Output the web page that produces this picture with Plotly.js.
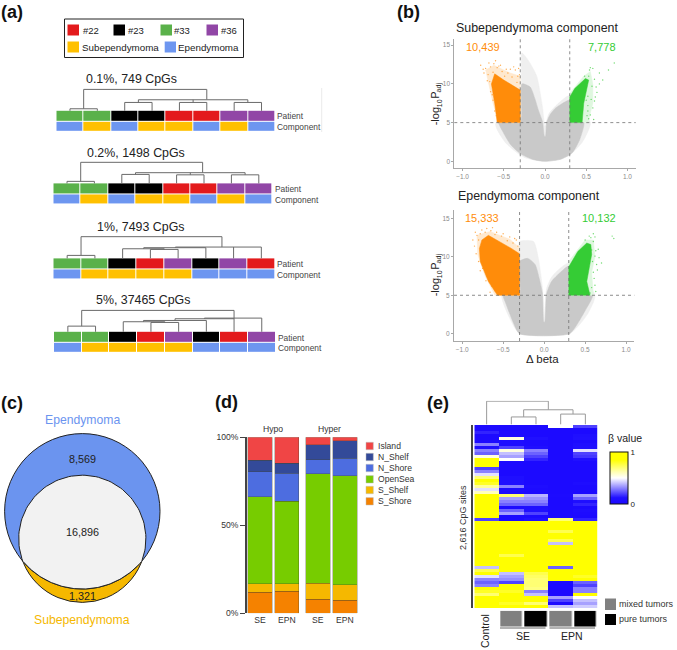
<!DOCTYPE html>
<html><head><meta charset="utf-8">
<script src="https://cdn.plot.ly/plotly-3.0.1.min.js"></script>
<style>html,body{margin:0;padding:0;background:#fff}#chart{width:677px;height:650px}</style>
</head><body><div id="chart"></div>
<script>
// ---------- Panel (a) data ----------
var clusterColors = ['#e31a1c','#000000','#5ab14a','#9146a6','#ffc000','#6d96f0'];
var legendPatients = ['#22','#23','#33','#36'];
var legendComponents = ['Subependymoma','Ependymoma'];
var clusterTitles = ['0.1%, 749 CpGs','0.2%, 1498 CpGs','1%, 7493 CpGs','5%, 37465 CpGs'];
// 0:#22 1:#23 2:#33 3:#36 4:Subependymoma 5:Ependymoma
var patientRow1 = [2,2,1,1,0,0,3,3], componentRow1 = [5,4,5,4,4,5,4,5];
var patientRow2 = [2,2,1,1,0,0,3,3], componentRow2 = [5,4,5,4,4,5,4,5];
var patientRow3 = [2,2,1,0,3,1,3,0], componentRow3 = [5,4,4,4,4,5,5,5];
var patientRow4 = [2,2,1,0,3,1,0,3], componentRow4 = [5,4,4,4,4,5,5,5];
var dendroX1 = [0,0,1,1,null,.5,.5,5,5,null,2,2,3,3,null,4,4,5,5,null,6,6,7,7,null,2.5,2.5,6.5,6.5,null,4.5,4.5];
var dendroH1 = [0,.19,.19,0,null,.19,2,2,1.06,null,0,.78,.78,0,null,0,.78,.78,0,null,0,.78,.78,0,null,.78,1.03,1.03,.78,null,.78,1.03];
var dendroX2 = [0,0,1,1,null,.5,.5,4.95,4.95,null,2,2,3,3,null,4,4,5,5,null,6,6,7,7,null,2.5,2.5,6.5,6.5,null,4.5,4.5];
var dendroH2 = [0,.19,.19,0,null,.19,1.97,1.97,1,null,0,.84,.84,0,null,0,.8,.8,0,null,0,.8,.8,0,null,.84,1,1,.8,null,.8,1];
var dendroX3 = [0,0,1,1,null,.5,.5,5.58,5.58,null,3,3,4,4,null,2,2,3.5,3.5,null,2.76,2.76,5,5,null,3.9,3.9,7,7,null,6,6];
var dendroH3 = [0,.28,.28,0,null,.28,2.03,2.03,1.06,null,0,.84,.84,0,null,0,.9,.9,.84,null,.9,1,1,0,null,1,1.06,1.06,0,null,0,1.06];
var dendroX4 = [0,0,1,1,null,.5,.5,6,6,null,3,3,4,4,null,2,2,3.5,3.5,null,2.73,2.73,5,5,null,3.87,3.87,6,null,4.93,4.93,7,7];
var dendroH4 = [0,.53,.53,0,null,.53,2,2,0,null,0,.875,.875,0,null,0,.94,.94,.875,null,.94,1.06,1.06,0,null,1.06,1.22,1.22,null,1.22,1.28,1.28,0];

// ---------- Panel (b) data (outlines of the point clouds) ----------
var foldCut = [-0.3,0.3], pCut = 5;
var haloX1 = [0,-.25,-.47,-.6,-.3,-.28,-.2,-.1,-.03,0,.05,.3,.55,.46,.3,.14];
var haloY1 = [0,.5,2.3,4.8,9,14,13,11,7,4.5,6.2,8.5,5,2.6,.8,.15];
var grayX1 = [0,-.15,-.3,-.42,-.52,-.56,-.3,-.28,-.18,-.12,-.08,-.03,-.006,.006,.02,.06,.12,.2,.3,.3,.47,.42,.33,.2];
var grayY1 = [0,.25,1,2.2,4,5,5,10,9.6,8,6.6,5.1,3.2,3.2,5,6,6.8,7.4,7.9,5,5,2.8,1.1,.3];
var hypoHaloX1 = [-.3,-.56,-.63,-.68,-.72,-.62,-.42,-.3];
var hypoHaloY1 = [5,5,7.5,10,11.8,12.4,11.4,11];
var hypoX1 = [-.3,-.58,-.61,-.65,-.61,-.5,-.3];
var hypoY1 = [5,5,7.5,10,11.3,10.5,9.2];
var hyperHaloX1 = [.3,.52,.58,.58,.55,.47,.3];
var hyperHaloY1 = [5,5,7.5,10,11.6,11,8.8];
var hyperX1 = [.3,.45,.47,.53,.49,.36,.3];
var hyperY1 = [5,5,7.5,10.5,10.7,9.4,8.3];
var hypoDotsX1 = [-.78,-.75,-.72,-.69,-.66,-.62,-.58,-.52,-.45,-.36,-.33,-.34,-.4,-.56,-.63,-.7,-.67,-.61,-.57,-.55,-.64,-.31,-.42,-.49,-.74,-.68,-.6,-.54,-.47,-.38,-.32,-.66,-.63,-.59];
var hypoDotsY1 = [12.4,11.9,12,11.2,12.2,12.6,12.1,11.6,11.4,11.8,11,10.2,10.9,12.3,11.5,10.4,10.3,6.5,5.7,5.3,8.6,11.2,11.9,11,11.4,12.7,13,12.4,11.9,12.2,12,9,7.9,5.9];
var hyperDotsX1 = [.53,.54,.6,.66,.77,.84,.52,.55,.58,.53,.56,.52,.57,.48,.62,.7,.5,.51,.6,.63,.58,.55,.66,.59,.52,.61];
var hyperDotsY1 = [11,11.8,10.6,11.4,11.8,12.7,6.5,6,6.9,5.5,8,8.4,9.7,11,9.6,10.5,7.9,5.9,7.8,8.9,12,12.1,10,5.4,7.2,8.3];
var haloX2 = [-.3,-.42,-.52,-.3,-.3,-.13,-.07,-.02,0,.03,.1,.3,.62,.52,.31];
var haloY2 = [0,2,5,9.7,12,12,9.8,5.9,2,5.9,7.5,9.2,5,2.4,0];
var grayX2 = [-.3,-.37,-.47,-.5,-.3,-.3,-.2,-.11,-.06,-.02,-.004,.008,.03,.09,.2,.3,.3,.59,.5,.4,.31];
var grayY2 = [0,1.3,4,5,5,9.4,9.8,9,7.2,5.2,1.5,1.5,5.2,6.8,8,8.8,5,5,3,1.2,0];
var hypoHaloX2 = [-.3,-.6,-.72,-.81,-.82,-.66,-.42,-.3];
var hypoHaloY2 = [5,5,7.5,10.3,12.8,13.3,12.3,11.2];
var hypoX2 = [-.3,-.57,-.68,-.78,-.79,-.76,-.68,-.54,-.4,-.3];
var hypoY2 = [5,5,6.8,9.4,11.1,12.2,12.8,12,11.1,10.4];
var hyperHaloX2 = [.3,.6,.58,.62,.6,.5,.3];
var hyperHaloY2 = [5,5,8,10,12.2,12.2,9.4];
var hyperX2 = [.3,.56,.52,.58,.57,.52,.41,.3];
var hyperY2 = [5,5,6.8,10.3,11.6,11.8,10.7,8.7];
var hypoDotsX2 = [-.82,-.8,-.78,-.72,-.65,-.6,-.52,-.45,-.38,-.32,-.83,-.8,-.75,-.7,-.64,-.6,-.34,-.42,-.85,-.58,-.87,-.84,-.76,-.7,-.63,-.5,-.36,-.78,-.71,-.66];
var hypoDotsY2 = [12.8,12.2,13,13.2,13.4,12.9,12.7,12.1,11.8,11.4,10.4,9.4,8.5,7.5,6.2,5.6,12.2,12.6,11.4,13.2,12.2,13.2,13.5,13.7,13.8,13,12.4,8.2,6.9,5.4];
var hyperDotsX2 = [.6,.57,.62,.58,.62,.64,.6,.62,.63,.58,.65,.55,.83,.85,.66,.7,.5,.61,.63,.59,.56,.67,.6];
var hyperDotsY2 = [12,12.5,12.6,10.9,10.1,9,8,6.3,5.5,6,8.3,12.7,12.7,12.4,11,9.2,12.2,7.2,10.8,9.4,5.3,9.9,13];
var volcanoTitles = ['Subependymoma component','Ependymoma component'];
var hypoCounts = ['10,439','15,333'], hyperCounts = ['7,778','10,132'];

// ---------- Panel (c) data ----------
var vennEpendymoma = {cx:82.3, cy:98.7, r:77.7};
var vennSubependymoma = {cx:82.3, cy:71.2, r:63.6};
var vennCounts = ['8,569','16,896','1,321'];

// ---------- Panel (d) data ----------
var regionNames = ['S_Shore','S_Shelf','OpenSea','N_Shore','N_Shelf','Island'];
var regionColors = ['#f58200','#f5b800','#77cc00','#4d6de0','#334a99','#f04545'];
var samples = ['SE','EPN'];
var hypoShares = [[11.9,12.5],[4.8,4.4],[49.6,46.9],[14,15.7],[6.6,5.7],[13.1,14.8]];
var hyperShares = [[8.1,7.4],[8.9,8.9],[62.4,61.9],[7.9,9.9],[8.5,9.8],[4.2,2.1]];

// ---------- Panel (e) data ----------
var betaControl = [.05,.05,.15,.05,.05,.05,.3,.12,.3,.25,.55,.85,1,1,.2,.3,.45,.7,.9,.8,.65,.45,.6,1,1,1,1,1,1,.85,1,.2,1,1,1,1,1,1,1,1,1,1,1,1,1,1,.95,.4,.75,.95,.45,.3,.25,.3,.9,.8,.7,1,1,.95,1];
var betaSEmixed = [.03,.03,.05,.05,.55,.08,.08,.2,.55,.4,.35,.5,.03,.03,.03,.03,.03,.1,.1,.1,.3,.08,.05,.7,.35,.3,.25,.08,.25,.35,.03,.03,1,1,1,1,1,.9,1,1,1,1,1,.75,.9,.85,1,1,.9,.4,.35,.32,.2,.85,.95,.8,.9,1,1,.8,1];
var betaSEpure = [.03,.03,.03,.03,.12,.05,.05,.1,.3,.25,.2,.15,.03,.03,.03,.03,.03,.03,.03,.03,.08,.05,.05,.38,.33,.3,.25,.1,.12,.2,.03,.12,1,1,1,1,.95,.85,1,1,1,1,1,1,.95,1,1,.95,.95,.75,.72,.7,.7,.7,.68,.3,.4,.95,.85,.7,.85];
var betaEPNmixed = [.5,.03,.03,.03,.03,.03,.03,.03,.03,.03,.03,.03,.03,.03,.03,.03,.03,.03,.03,.03,.03,.03,.03,.05,.03,.03,.03,.03,.03,.03,.03,.7,1,.85,1,.75,.85,1,.75,.4,1,1,1,1,1,1,1,.25,1,1,1,1,.05,.03,.03,.03,.03,.35,.2,.05,.4];
var betaEPNpure = [.2,.03,.03,.1,.12,.05,.1,.12,.45,.2,.18,.12,.03,.03,.03,.03,.03,.03,.03,.08,.03,.03,.03,.35,.25,.1,.15,.03,.08,.05,.03,.15,1,1,1,1,.9,.95,.85,.9,1,1,1,1,.9,.95,1,1,.95,.85,.8,.85,.25,.2,.3,.3,.85,.5,.4,.35,.42];
var heatDendroX = [1,1,2,2,null,3,3,4,4,null,1.5,1.5,3.5,3.5,null,0,0,2.5,2.5];
var heatDendroY = [0,.32,.32,0,null,0,.44,.44,0,null,.32,.62,.62,.44,null,0,.98,.98,.62];
var tumorType = [null,.5,1,.5,1];

// ---------- helpers ----------
var W = 677, H = 650;
var FONT = 'Liberation Sans, Arial, sans-serif';
var data = [], shapes = [], annotations = [];
var layout = {
  width:W, height:H, margin:{l:0,r:0,t:0,b:0,pad:0}, paper_bgcolor:'#fff', plot_bgcolor:'rgba(0,0,0,0)',
  showlegend:false, barmode:'stack', bargap:0.09, font:{family:FONT,color:'#222'},
  shapes:shapes, annotations:annotations
};
function hiddenAxis(extra){
  return Object.assign({showgrid:false,zeroline:false,showticklabels:false,ticks:'',showline:false,fixedrange:true},extra||{});
}
var axisCount = 0;
function addPlot(x0,x1,yTop,yBottom,xopts,yopts){
  axisCount++;
  var k = axisCount===1 ? '' : String(axisCount);
  layout['xaxis'+k] = hiddenAxis(Object.assign({domain:[x0/W,x1/W],anchor:'y'+k},xopts));
  layout['yaxis'+k] = hiddenAxis(Object.assign({domain:[1-yBottom/H,1-yTop/H],anchor:'x'+k},yopts));
  return {x:'x'+k,y:'y'+k};
}
function text(x,y,str,o){
  o=o||{};
  annotations.push({xref:'paper',yref:'paper',x:x/W,y:1-y/H,text:str,showarrow:false,
    xanchor:o.anchor||'left',yanchor:'middle',textangle:o.angle||0,borderpad:0,borderwidth:0,
    font:{family:FONT,size:o.size||10,color:o.color||'#222'}});
}
function box(x0,y0,x1,y1,fill,line,lw){
  shapes.push({type:'rect',xref:'paper',yref:'paper',x0:x0/W,x1:x1/W,y0:1-y0/H,y1:1-y1/H,
    fillcolor:fill||'rgba(0,0,0,0)',line:{color:line||'rgba(0,0,0,0)',width:lw===undefined?0:lw}});
}
function rule(x0,y0,x1,y1,color,lw){
  shapes.push({type:'line',xref:'paper',yref:'paper',x0:x0/W,x1:x1/W,y0:1-y0/H,y1:1-y1/H,line:{color:color,width:lw}});
}
function closed(a){return a.concat([a[0]]);}

// panel letters
text(1,12,'<b>(a)</b>',{size:18,color:'#111'});
text(397,12,'<b>(b)</b>',{size:18,color:'#111'});
text(1,403,'<b>(c)</b>',{size:18,color:'#111'});
text(215,402,'<b>(d)</b>',{size:18,color:'#111'});
text(427,403,'<b>(e)</b>',{size:18,color:'#111'});

// ---------- (a) ----------
box(64.5,19,243.5,57.5,'#fff','#222',1);
var swatchLeft = [67.5,113.5,160.5,206.5], labelLeft = [82.5,128,174,221];
legendPatients.forEach(function(t,i){
  box(swatchLeft[i],24.5,swatchLeft[i]+11.5,35.5,clusterColors[i]);
  text(labelLeft[i],30.3,t,{size:9.5});
});
box(67.5,41.5,79,52.5,clusterColors[4]); text(81.5,47.7,legendComponents[0],{size:9.8});
box(164.7,41.5,176,52.5,clusterColors[5]); text(178,47.2,legendComponents[1],{size:9.8});
rule(321.7,88,321.7,132,'#e4e4e4',0.8);

var rowPitch = 10.7;
var discrete = [];
clusterColors.forEach(function(c,i){discrete.push([i/6,c]);discrete.push([(i+1)/6,c]);});
var clusterBlocks = [
  {x0:56.3,x1:275.2,bottom:132.2,p:patientRow1,c:componentRow1,dx:dendroX1,dh:dendroH1,tx:86,ty:79},
  {x0:53.3,x1:272.5,bottom:204.8,p:patientRow2,c:componentRow2,dx:dendroX2,dh:dendroH2,tx:87,ty:153},
  {x0:53.3,x1:275.2,bottom:279.8,p:patientRow3,c:componentRow3,dx:dendroX3,dh:dendroH3,tx:97,ty:226.7},
  {x0:54,x1:275.6,bottom:353.2,p:patientRow4,c:componentRow4,dx:dendroX4,dh:dendroH4,tx:96,ty:300}
];
clusterBlocks.forEach(function(b,i){
  var ax = addPlot(b.x0,b.x1,b.bottom-4.4*rowPitch,b.bottom,{range:[-.5,7.5]},{range:[-.5,3.9]});
  data.push({type:'heatmap',z:[b.c,b.p],zmin:0,zmax:6,colorscale:discrete,showscale:false,xgap:1,ygap:1,xaxis:ax.x,yaxis:ax.y,hoverinfo:'skip'});
  data.push({type:'scatter',mode:'lines',x:b.dx,y:b.dh.map(function(h){return h===null?null:h+1.5;}),
    line:{color:'#6a6a6a',width:1},xaxis:ax.x,yaxis:ax.y,hoverinfo:'skip',connectgaps:false});
  text(b.tx,b.ty,clusterTitles[i],{size:12.4});
  text(b.x1+2,b.bottom-15.7,'Patient',{size:8.4,color:'#444'});
  text(b.x1+2,b.bottom-5,'Component',{size:8.4,color:'#444'});
});

// ---------- (b) ----------
var volcanoBoxes = [
  {l:454.3,r:635.7,t:39,b:168.3,yr:[-.9,15.8],
   hx:haloX1,hy:haloY1,gx:grayX1,gy:grayY1,ohx:hypoHaloX1,ohy:hypoHaloY1,lhx:hyperHaloX1,lhy:hyperHaloY1,ox:hypoX1,oy:hypoY1,lx:hyperX1,ly:hyperY1,odx:hypoDotsX1,ody:hypoDotsY1,ldx:hyperDotsX1,ldy:hyperDotsY1,
   titleX:536.7,titleY:28,cy:47,c1:483,c2:601.7,labY:104},
  {l:454,r:634.3,t:210,b:341,yr:[-.95,16.1],
   hx:haloX2,hy:haloY2,gx:grayX2,gy:grayY2,ohx:hypoHaloX2,ohy:hypoHaloY2,lhx:hyperHaloX2,lhy:hyperHaloY2,ox:hypoX2,oy:hypoY2,lx:hyperX2,ly:hyperY2,odx:hypoDotsX2,ody:hypoDotsY2,ldx:hyperDotsX2,ldy:hyperDotsY2,
   titleX:529,titleY:196,cy:218,c1:482,c2:599,labY:275}
];
var ORANGE='#ff8c0a', GREEN='#35cc35';
volcanoBoxes.forEach(function(v,i){
  var tickStyle = {showline:true,linecolor:'#a8a8a8',linewidth:1,ticks:'outside',ticklen:2,tickwidth:1,tickcolor:'#a8a8a8',
    showticklabels:true,tickfont:{size:6.5,color:'#8a8a8a',family:FONT}};
  var ax = addPlot(v.l,v.r,v.t,v.b,
    Object.assign({range:[-1.1,1.1],tickvals:[-1,-.5,0,.5,1],tickformat:'.1f'},tickStyle),
    Object.assign({range:v.yr,tickvals:[0,5,10,15]},tickStyle));
  function poly(px,py,color,smooth){
    data.push({type:'scatter',mode:'lines',x:closed(px),y:closed(py),fill:'toself',fillcolor:color,
      line:{color:color,width:0.5,shape:smooth?'spline':'linear',smoothing:.6},xaxis:ax.x,yaxis:ax.y,hoverinfo:'skip'});
  }
  poly(v.hx,v.hy,'#efefef',true); poly(v.gx,v.gy,'#c9c9c9',true);
  poly(v.ohx,v.ohy,'#ffe9cf',false); poly(v.lhx,v.lhy,'#dff7df',false);
  poly(v.ox,v.oy,ORANGE,false); poly(v.lx,v.ly,GREEN,false);
  data.push({type:'scatter',mode:'markers',x:v.odx,y:v.ody,marker:{size:1.4,color:ORANGE,opacity:.7},xaxis:ax.x,yaxis:ax.y,hoverinfo:'skip'});
  data.push({type:'scatter',mode:'markers',x:v.ldx,y:v.ldy,marker:{size:1.4,color:GREEN,opacity:.7},xaxis:ax.x,yaxis:ax.y,hoverinfo:'skip'});
  foldCut.forEach(function(c){
    shapes.push({type:'line',xref:ax.x,yref:ax.y+' domain',x0:c,x1:c,y0:0,y1:1,line:{color:'#707070',width:.8,dash:'dot'}});
  });
  shapes.push({type:'line',xref:ax.x+' domain',yref:ax.y,x0:0,x1:1,y0:pCut,y1:pCut,line:{color:'#707070',width:.8,dash:'dot'}});
  text(v.titleX,v.titleY,volcanoTitles[i],{size:12.4,anchor:'center'});
  text(v.c1,v.cy,hypoCounts[i],{size:11,color:ORANGE,anchor:'center'});
  text(v.c2,v.cy,hyperCounts[i],{size:11,color:GREEN,anchor:'center'});
  // rotated -log10Padj, each run placed on its own so the subscripts keep their lower baseline
  var foot = v.labY+21.4;
  text(435,foot-9.1,'-log',{size:11,anchor:'center',angle:-90});
  text(439,foot-22.2,'10',{size:7,anchor:'center',angle:-90});
  text(435,foot-29.7,'P',{size:11,anchor:'center',angle:-90});
  text(439,foot-38,'adj',{size:7,anchor:'center',angle:-90});
});
text(542.7,359,'\u0394 beta',{size:11.5,anchor:'center'});

// ---------- (c) ----------
var vennAxes = addPlot(0,165,425,610,{range:[0,165]},{range:[0,185]});
function circleShape(c,fill){
  shapes.push({type:'circle',layer:'below',xref:vennAxes.x,yref:vennAxes.y,x0:c.cx-c.r,x1:c.cx+c.r,y0:c.cy-c.r,y1:c.cy+c.r,
    fillcolor:fill,line:{color:'#222',width:1}});
}
circleShape(vennSubependymoma,'#f5b800');
circleShape(vennEpendymoma,'#6b94ef');
(function(){
  // the overlap of the two circles, traced along each circle's own rim
  var A=vennEpendymoma,B=vennSubependymoma,lx=[],ly=[],n=90;
  var dy=A.cy-B.cy;
  var yi=(dy*dy+B.r*B.r-A.r*A.r)/(2*dy);          // chord height above B's centre
  var half=Math.sqrt(B.r*B.r-yi*yi);
  var aB=Math.atan2(yi,half), aA=Math.atan2(yi-dy,half);
  for(var i=0;i<=n;i++){var t=aB+(Math.PI-2*aB)*i/n;lx.push(B.cx+B.r*Math.cos(t));ly.push(B.cy+B.r*Math.sin(t));}
  for(i=0;i<=n;i++){t=Math.PI-aA+(Math.PI+2*aA)*i/n;lx.push(A.cx+A.r*Math.cos(t));ly.push(A.cy+A.r*Math.sin(t));}
  data.push({type:'scatter',mode:'lines',x:lx,y:ly,fill:'toself',fillcolor:'#f2f2f2',line:{color:'#222',width:1},
    xaxis:vennAxes.x,yaxis:vennAxes.y,hoverinfo:'skip'});
})();
text(82.3,420,'Ependymoma',{size:12.2,color:'#6b94ef',anchor:'center'});
text(82.3,619.7,'Subependymoma',{size:12.2,color:'#f5b800',anchor:'center'});
text(82.3,459,vennCounts[0],{size:10.8,anchor:'center'});
text(82.3,532,vennCounts[1],{size:10.8,anchor:'center'});
text(82.3,595.7,vennCounts[2],{size:10.8,anchor:'center'});

// ---------- (d) ----------
var barX = {type:'category',categoryorder:'array',categoryarray:samples,range:[-.5,1.5],showticklabels:true,
  tickfont:{size:8.6,color:'#333',family:FONT},ticks:'',ticklen:0};
var dA = addPlot(246.7,300.1,437.3,613.3,barX,{range:[0,100],tickvals:[0,50,100],ticktext:['0%','50%','100%'],
  showticklabels:true,ticks:'outside',ticklen:5,tickwidth:1,tickcolor:'#444',showline:true,linecolor:'#444',linewidth:1.5,
  tickfont:{size:8.6,color:'#333',family:FONT}});
var dB = addPlot(304.3,358.3,437.3,613.3,barX,{range:[0,100]});
[[hypoShares,dA],[hyperShares,dB]].forEach(function(pair){
  regionNames.forEach(function(name,i){
    data.push({type:'bar',x:samples,y:pair[0][i],name:name,marker:{color:regionColors[i],line:{color:'rgba(70,70,40,.5)',width:.6}},
      xaxis:pair[1].x,yaxis:pair[1].y,hoverinfo:'skip'});
  });
});
text(273,428.7,'Hypo',{size:8.6,anchor:'center',color:'#333'});
text(329,428.7,'Hyper',{size:8.6,anchor:'center',color:'#333'});
var regionRows = [501.3,490,479.3,468,457,446];
regionNames.forEach(function(name,i){
  box(366,regionRows[i]-3.7,373.3,regionRows[i]+3.7,regionColors[i],'#bbb',.5);
  text(377.7,regionRows[i],name,{size:8.6,color:'#333'});
});

// ---------- (e) ----------
var rows = betaControl.map(function(_,i){
  return [betaControl[i],betaSEmixed[i],betaSEpure[i],betaEPNmixed[i],betaEPNpure[i]];
});
var betaScale = [[0,'#1a08ff'],[.12,'#2010ff'],[.5,'#ffffff'],[.62,'#ffffb0'],[.85,'#ffff00'],[1,'#ffff00']];
var eMain = addPlot(474.3,597.7,425,608,{range:[-.5,4.5]},{range:[60.5,-.5]});
data.push({type:'heatmap',z:rows,zmin:0,zmax:1,colorscale:betaScale,xaxis:eMain.x,yaxis:eMain.y,hoverinfo:'skip',showscale:true,
  colorbar:{x:610/W,xanchor:'left',y:1-478/H,yanchor:'middle',lenmode:'fraction',len:52/H,thicknessmode:'pixels',thickness:18,
    xpad:0,ypad:0,outlinecolor:'#111',outlinewidth:1,tickvals:[0,1],ticks:'',tickfont:{size:8,color:'#222',family:FONT}}});
var eDendro = addPlot(474.3,597.7,400.7,424.6,{range:[-.5,4.5]},{range:[0,1]});
data.push({type:'scatter',mode:'lines',x:heatDendroX,y:heatDendroY,line:{color:'#9a9a9a',width:1},xaxis:eDendro.x,yaxis:eDendro.y,hoverinfo:'skip'});
var eType = addPlot(474.3,597.7,610.7,626.7,{range:[-.5,4.5]},{range:[-.5,.5]});
data.push({type:'heatmap',z:[tumorType],zmin:0,zmax:1,xgap:2.5,colorscale:[[0,'#808080'],[.5,'#808080'],[.5001,'#000'],[1,'#000']],
  showscale:false,xaxis:eType.x,yaxis:eType.y,hoverinfo:'skip'});
rule(472,425,472,608,'#444',2);
rule(500,628,545.5,628,'#666',1);
rule(549.5,628,595,628,'#666',1);
text(463,518,'2,616 CpG sites',{size:9,anchor:'center',angle:-90,color:'#333'});
text(485,631,'Control',{size:10.5,anchor:'center',angle:-90});
text(523,635.5,'SE',{size:10.5,anchor:'center'});
text(572,635.5,'EPN',{size:10.5,anchor:'center'});
text(608,438,'\u03b2 value',{size:10.5});
box(605,598.5,616,610,'#808080'); text(619,603.5,'mixed tumors',{size:9,color:'#333'});
box(605,614,616,625,'#000'); text(619,619,'pure tumors',{size:9,color:'#333'});

Plotly.newPlot('chart',data,layout,{staticPlot:true,displayModeBar:false});
</script></body></html>
